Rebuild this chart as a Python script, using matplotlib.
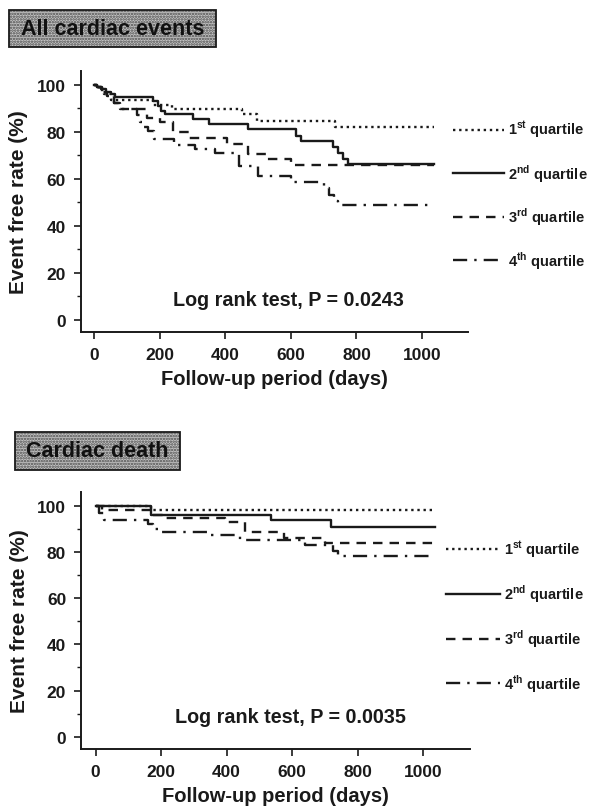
import matplotlib
matplotlib.use("Agg")
import matplotlib.pyplot as plt
from matplotlib.patches import Rectangle

plt.rcParams['font.family'] = ['Liberation Sans', 'DejaVu Sans']
plt.rcParams['mathtext.fontset'] = 'custom'
plt.rcParams['mathtext.rm'] = 'Liberation Sans'
plt.rcParams['mathtext.bf'] = 'Liberation Sans:bold'
plt.rcParams['hatch.linewidth'] = 1.2

# Kaplan-Meier step data (days, event free rate %)
END_DAY = 1035

ev_t1 = [0, 15, 30, 50, 178, 238, 450, 498, 735]
ev_v1 = [100, 98, 96, 93.5, 91.5, 89.6, 87.5, 84.4, 81.8]
ev_t2 = [0, 10, 20, 35, 50, 65, 180, 195, 205, 215, 300, 350, 468, 615, 630, 728, 745, 760, 775]
ev_v2 = [100, 99, 98, 97, 96, 94.8, 93, 91, 89, 87.6, 85.5, 83.3, 81, 78, 76, 73.5, 71, 68.5, 66.2]
ev_t3 = [0, 10, 25, 40, 60, 80, 160, 200, 240, 290, 405, 470, 525, 600]
ev_v3 = [100, 99, 97, 95, 92, 89.7, 85.8, 84, 80, 77.2, 74.9, 70.5, 68.4, 65.8]
ev_t4 = [0, 10, 25, 40, 60, 80, 130, 140, 150, 165, 183, 243, 308, 368, 443, 500, 600, 700, 715, 730, 745]
ev_v4 = [100, 99, 97, 95, 92, 89.7, 87, 84, 82, 80.5, 77, 74.3, 72.6, 70.9, 65.5, 61, 58.5, 56, 53, 50.5, 48.8]

cd_t1 = [0, 170]
cd_v1 = [100, 98.3]
cd_t2 = [0, 170, 537, 720]
cd_v2 = [100, 96.1, 93.7, 90.8]
cd_t3 = [0, 20, 170, 215, 395, 455, 575, 700]
cd_v3 = [100, 98, 96, 94.6, 92.8, 88.6, 86, 83.9]
cd_t4 = [0, 10, 25, 160, 175, 190, 340, 440, 640, 725, 740]
cd_v4 = [100, 97, 94, 92, 90, 88.7, 87.5, 85, 82.9, 80.5, 78.2]

labels = ['1$^{\\mathbf{st}}$ quartile', '2$^{\\mathbf{nd}}$ quartile',
          '3$^{\\mathbf{rd}}$ quartile', '4$^{\\mathbf{th}}$ quartile']
styles = [(0, (1, 1.6)), '-', (0, (4, 3)), (0, (6, 3, 1, 3))]
xticks = [0, 200, 400, 600, 800, 1000]
yticks = [0, 20, 40, 60, 80, 100]

INK = '#1a1a1a'

fig = plt.figure(figsize=(5.9, 8.12), dpi=100)


def km_panel(ax, series, ptext, xlim, ylim):
    lines = []
    for (t, v), ls in zip(series, styles):
        tt = list(t) + [END_DAY]
        vv = list(v) + [v[-1]]
        ln, = ax.step(tt, vv, where='post', color=INK, lw=1.7, linestyle=ls)
        lines.append(ln)
    ax.set_xlim(*xlim)
    ax.set_ylim(*ylim)
    ax.set_xticks(xticks)
    ax.set_yticks(yticks)
    ax.set_yticks(range(10, 100, 20), minor=True)
    for s in ['top', 'right']:
        ax.spines[s].set_visible(False)
    for s in ['left', 'bottom']:
        ax.spines[s].set_linewidth(1.4)
        ax.spines[s].set_color(INK)
    ax.tick_params(axis='both', which='major', length=5, width=1.2, colors=INK,
                   labelsize=12.5, pad=6)
    ax.tick_params(axis='y', which='minor', length=3, width=1.0, colors=INK)
    for lab in ax.get_xticklabels() + ax.get_yticklabels():
        lab.set_fontweight('bold')
    ax.set_xlabel('Follow-up period (days)', fontsize=14.5, fontweight='bold',
                  color=INK, labelpad=5)
    ax.set_ylabel('Event free rate (%)', fontsize=15, fontweight='bold',
                  color=INK, labelpad=6)
    ax.text(0.537, 0.125, ptext, transform=ax.transAxes, ha='center', va='center',
            fontsize=14.2, fontweight='bold', color=INK)
    return lines


def title_box(x0, y0, x1, y1, text):
    # pixel box -> figure fractions
    W, H = 590.0, 812.0
    r = Rectangle((x0 / W, 1 - y1 / H), (x1 - x0) / W, (y1 - y0) / H,
                  transform=fig.transFigure, facecolor='#c4c4c4',
                  edgecolor='#4a4a4a', hatch='......', lw=0)
    fig.patches.append(r)
    r2 = Rectangle((x0 / W, 1 - y1 / H), (x1 - x0) / W, (y1 - y0) / H,
                   transform=fig.transFigure, facecolor='none',
                   edgecolor=INK, lw=1.3)
    fig.patches.append(r2)
    fig.text((x0 + x1) / 2 / W, 1 - (y0 + y1) / 2 / H, text, ha='center',
             va='center', fontsize=15.5, fontweight='bold', color='#111111')


ax1 = fig.add_axes([0.1373, 0.5899, 0.6559, 0.3214])
l1 = km_panel(ax1, [(ev_t1, ev_v1), (ev_t2, ev_v2), (ev_t3, ev_v3), (ev_t4, ev_v4)],
              'Log rank test, P = 0.0243', (-40, 1140), (-5.2, 105.8))
fig.legend(l1, labels, loc='center left', bbox_to_anchor=(0.768, 0.759),
           frameon=False, handlelength=3.5, handletextpad=0.25, labelspacing=1.5,
           borderpad=0, borderaxespad=0, prop={'weight': 'bold', 'size': 10.5},
           labelcolor=INK)

ax2 = fig.add_axes([0.138, 0.0764, 0.6586, 0.3165])
l2 = km_panel(ax2, [(cd_t1, cd_v1), (cd_t2, cd_v2), (cd_t3, cd_v3), (cd_t4, cd_v4)],
              'Log rank test, P = 0.0035', (-43, 1143), (-5.3, 106))
fig.legend(l2, labels, loc='center left', bbox_to_anchor=(0.756, 0.240),
           frameon=False, handlelength=3.7, handletextpad=0.25, labelspacing=1.58,
           borderpad=0, borderaxespad=0, prop={'weight': 'bold', 'size': 10.5},
           labelcolor=INK)

title_box(9, 11, 216, 48, 'All cardiac events')
title_box(15, 433, 180, 471, 'Cardiac death')

fig.savefig('out.png', dpi=100)
